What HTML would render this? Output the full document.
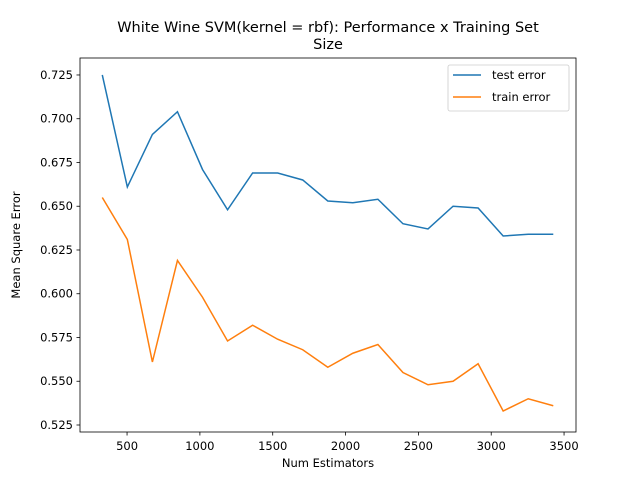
<!DOCTYPE html>
<html><head><meta charset="utf-8"><style>
body{margin:0;background:#fff}
svg text{font-family:"DejaVu Sans","Liberation Sans",sans-serif;fill:#000}
</style></head><body>
<svg id="chart" width="640" height="480"></svg>
<script>
const xs=[330,502,674,846,1018,1190,1362,1534,1706,1878,2050,2222,2394,2566,2738,2910,3082,3254,3426];
const testErr=[0.725,0.661,0.691,0.704,0.671,0.648,0.669,0.669,0.665,0.653,0.652,0.654,0.640,0.637,0.650,0.649,0.633,0.634,0.634];
const trainErr=[0.655,0.631,0.561,0.619,0.598,0.573,0.582,0.574,0.568,0.558,0.566,0.571,0.555,0.548,0.550,0.560,0.533,0.540,0.536];
const xTicks=[500,1000,1500,2000,2500,3000,3500];
const yTicks=[0.525,0.550,0.575,0.600,0.625,0.650,0.675,0.700,0.725];
const L=80,R=576,T=58,B=432;
const x0=177,x1=3582,y0=0.521,y1=0.7347;
const sx=v=>L+(v-x0)/(x1-x0)*(R-L);
const sy=v=>B-(v-y0)/(y1-y0)*(B-T);
const svg=document.getElementById('chart');
const NS='http://www.w3.org/2000/svg';
function mk(t,a,p){const e=document.createElementNS(NS,t);for(const k in a)e.setAttribute(k,a[k]);(p||svg).appendChild(e);return e;}
function line(vals,color,name){
 const p=mk('polyline',{points:vals.map((v,i)=>sx(xs[i])+','+sy(v)).join(' '),fill:'none',stroke:color,'stroke-width':1.5});
 
 
}
line(testErr,'#1f77b4','test-error-line');
line(trainErr,'#ff7f0e','train-error-line');
const frame=mk('rect',{x:L,y:T,width:R-L,height:B-T,fill:'none',stroke:'#000','stroke-width':0.8});


xTicks.forEach(v=>{
 const x=sx(v);
 mk('line',{x1:x,x2:x,y1:B,y2:B+3.5,stroke:'#000','stroke-width':0.8});
 const t=mk('text',{x:x,y:B+18,'font-size':11.5,'text-anchor':'middle'});t.textContent=v;
 
 
});
yTicks.forEach(v=>{
 const y=sy(v);
 mk('line',{x1:L-3.5,x2:L,y1:y,y2:y,stroke:'#000','stroke-width':0.8});
 const t=mk('text',{x:L-7,y:y+4,'font-size':11.5,'text-anchor':'end'});t.textContent=v.toFixed(3);
 
 
});
</script>
<svg width="640" height="480" style="position:absolute;left:0;top:0">
<text x="328" y="32" font-size="14.5" text-anchor="middle">White Wine SVM(kernel = rbf): Performance x Training Set</text>
<text x="328" y="49" font-size="14.5" text-anchor="middle">Size</text>
<text x="328" y="467" font-size="11.5" text-anchor="middle">Num Estimators</text>
<text x="20" y="245" font-size="11.5" text-anchor="middle" transform="rotate(-90 20 245)">Mean Square Error</text>
<g>
<rect x="448" y="65" width="121" height="46" rx="2" fill="#fff" stroke="#ccc" stroke-width="0.8"/>
<line x1="453" x2="481" y1="75" y2="75" stroke="#1f77b4" stroke-width="1.5"/>
<text x="492" y="79" font-size="11.5">test error</text>
<line x1="453" x2="481" y1="97" y2="97" stroke="#ff7f0e" stroke-width="1.5"/>
<text x="492" y="101" font-size="11.5">train error</text>
</g>
</svg>
</body></html>
